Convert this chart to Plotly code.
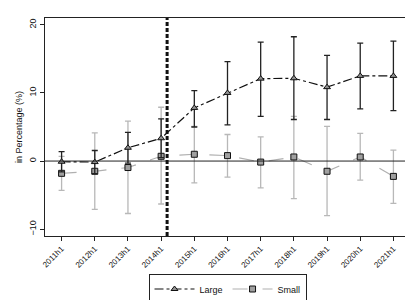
import plotly.graph_objects as go

periods = ["2011h1", "2012h1", "2013h1", "2014h1", "2015h1", "2016h1",
           "2017h1", "2018h1", "2019h1", "2020h1", "2021h1"]
large = [-0.1, -0.15, 1.95, 3.35, 7.8, 10.0, 12.1, 12.15, 10.85, 12.5, 12.5]
large_hi = [1.4, 1.55, 4.2, 6.2, 10.35, 14.6, 17.45, 18.25, 15.5, 17.3, 17.6]
large_lo = [-1.6, -1.85, -0.3, 0.5, 5.0, 5.3, 6.55, 6.1, 6.1, 7.65, 7.4]
small = [-1.8, -1.5, -0.95, 0.7, 1.0, 0.8, -0.15, 0.6, -1.5, 0.6, -2.25]
small_hi = [0.7, 4.15, 5.85, 7.9, 5.1, 3.9, 3.55, 6.55, 5.1, 4.05, 1.6]
small_lo = [-4.3, -7.1, -7.7, -6.3, -3.2, -2.35, -3.95, -5.5, -8.0, -2.8, -6.2]
event_pos = 3.18
y_ticks = [-10, 0, 10, 20]

xi = list(range(len(periods)))
font = "Liberation Sans, Arial, sans-serif"

fig = go.Figure()
fig.add_trace(go.Scatter(
    x=xi, y=small, name="Small", mode="lines+markers",
    line=dict(color="#b0b0b0", width=1.2, dash="longdash"),
    marker=dict(symbol="square", size=6, color="#a0a0a0",
                line=dict(color="#111111", width=1)),
    error_y=dict(type="data", symmetric=False,
                 array=[h - v for h, v in zip(small_hi, small)],
                 arrayminus=[v - l for l, v in zip(small_lo, small)],
                 color="#b8b8b8", thickness=1.3, width=3),
))
fig.add_trace(go.Scatter(
    x=xi, y=large, name="Large", mode="lines+markers",
    line=dict(color="#111111", width=1.2, dash="dashdot"),
    marker=dict(symbol="triangle-up", size=6, color="#909090",
                line=dict(color="#111111", width=1)),
    error_y=dict(type="data", symmetric=False,
                 array=[h - v for h, v in zip(large_hi, large)],
                 arrayminus=[v - l for l, v in zip(large_lo, large)],
                 color="#222222", thickness=1.3, width=3),
))
fig.add_hline(y=0, line=dict(color="#222222", width=1))
fig.add_vline(x=event_pos, line=dict(color="#111111", width=3, dash="4px,2px"))

fig.update_layout(
    width=413, height=300,
    margin=dict(l=37, r=11, t=10, b=72, autoexpand=False),
    paper_bgcolor="white", plot_bgcolor="white",
    font=dict(family=font, size=9, color="#111111"),
    showlegend=True,
    legend=dict(orientation="h", x=0.5, xanchor="center", y=0.115, yref="container",
                yanchor="top", bordercolor="#222222", borderwidth=1,
                traceorder="reversed", font=dict(size=9), itemwidth=40,
                bgcolor="rgba(255,255,255,0)"),
    xaxis=dict(range=[-0.5, 10.5], tickmode="array", tickvals=xi, ticktext=periods,
               tickangle=-45, ticks="outside", ticklen=4, tickcolor="#222222",
               showgrid=False, zeroline=False, showline=True, linecolor="#222222",
               linewidth=1, mirror=True, tickfont=dict(size=8, color="#111111"),
               automargin=False),
    yaxis=dict(range=[-11, 21], tickvals=y_ticks, tickangle=-90,
               ticks="outside", ticklen=4, tickcolor="#222222",
               showgrid=False, zeroline=False, showline=True, linecolor="#222222",
               linewidth=1, mirror=True, tickfont=dict(size=9),
               automargin=False,
               title=dict(text="in Percentage (%)", font=dict(size=9), standoff=4)),
)
fig.write_html("out.html")
